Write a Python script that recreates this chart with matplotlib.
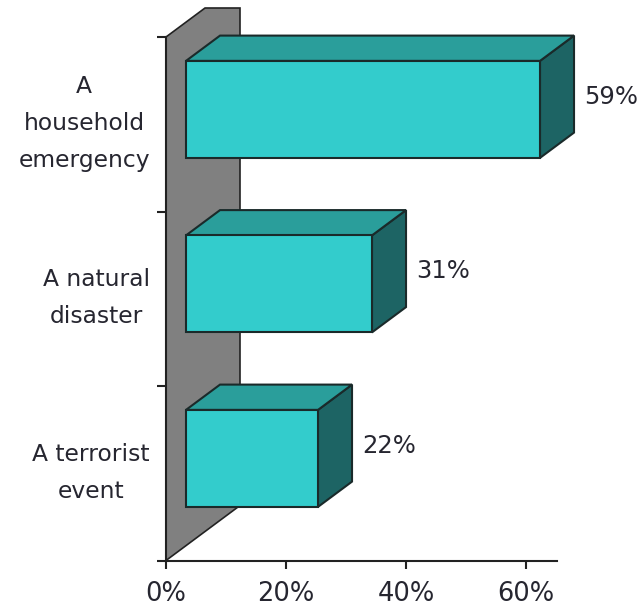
import matplotlib.pyplot as plt
from matplotlib.patches import Polygon

# data (top to bottom in the picture)
categories = ['A\nhousehold\nemergency', 'A natural\ndisaster', 'A terrorist\nevent']
values = [59, 31, 22]
value_labels = ['59%', '31%', '22%']
xticks = [0, 20, 40, 60]
xtick_labels = ['0%', '20%', '40%', '60%']

W, H = 644, 607
fig = plt.figure(figsize=(W / 100, H / 100), dpi=100)

# axes box in pixels
left, right, top, bottom = 166, 557, 37, 560.5
ax = fig.add_axes([left / W, 1 - bottom / H, (right - left) / W, (bottom - top) / H])
xmax = (right - left) / 6.0
ax.set_xlim(0, xmax)
ax.set_ylim(0, 3)

# pixel -> data scale
px_x = xmax / (right - left)
px_y = 3 / (bottom - top)

# 3d depth vector (pixels)
Dx, Dy = 74 * px_x, 55 * px_y
f0, f1 = 0.27, 0.73
ox0, oy0 = f0 * Dx, f0 * Dy
ox1, oy1 = f1 * Dx, f1 * Dy

edge = '#1a2a2a'
front_c = '#33cccc'
top_c = '#2a9e9b'
side_c = '#1d6464'
txt_c = '#262630'

# wall
ytop = 3 + 29 * px_y
wall = Polygon([(0, 0), (0, 3), (Dx * (ytop - 3) / Dy, ytop), (Dx, ytop), (Dx, Dy)],
               closed=True, facecolor='#808080', edgecolor='#222222', lw=1.2,
               zorder=1, clip_on=False)
ax.add_patch(wall)

h = 97 * px_y
n = len(values)
for i, v in enumerate(values):
    yc = n - 1 - i + 0.5
    yb, yt = yc - h / 2, yc + h / 2
    front = Polygon([(ox0, yb + oy0), (v + ox0, yb + oy0), (v + ox0, yt + oy0), (ox0, yt + oy0)],
                    facecolor=front_c, edgecolor=edge, lw=1.5, zorder=3, clip_on=False)
    topf = Polygon([(ox0, yt + oy0), (v + ox0, yt + oy0), (v + ox1, yt + oy1), (ox1, yt + oy1)],
                   facecolor=top_c, edgecolor=edge, lw=1.5, zorder=3, clip_on=False)
    side = Polygon([(v + ox0, yb + oy0), (v + ox1, yb + oy1), (v + ox1, yt + oy1), (v + ox0, yt + oy0)],
                   facecolor=side_c, edgecolor=edge, lw=1.5, zorder=3, clip_on=False)
    for p in (side, topf, front):
        ax.add_patch(p)
    ax.text(v + ox1 + 10 * px_x, yc + (oy0 + oy1) / 2, value_labels[i],
            ha='left', va='center', fontsize=17.5, color=txt_c, family='DejaVu Sans')

# axes styling
for s in ['top', 'right']:
    ax.spines[s].set_visible(False)
for s in ['left', 'bottom']:
    ax.spines[s].set_linewidth(1.5)
    ax.spines[s].set_color('#222222')
    ax.spines[s].set_zorder(2)

ax.set_xticks(xticks)
ax.set_xticklabels(xtick_labels, fontsize=18.5, color=txt_c, family='DejaVu Sans')
ax.tick_params(axis='x', direction='out', length=6, width=1.5, color='#222222', pad=9)

ax.set_yticks([0, 1, 2, 3])
ax.set_yticklabels([])
ax.tick_params(axis='y', which='major', direction='out', length=6.5, width=1.5, color='#222222')
# category labels sit a little above the band centre
ax.set_yticks([n - 1 - i + 0.5 + 10 * px_y for i in range(n)], minor=True)
labels = ax.set_yticklabels(categories, minor=True, fontsize=16.8, color=txt_c,
                            family='DejaVu Sans', ha='right', linespacing=1.78)
for lab in labels:
    lab.set_multialignment('center')
ax.tick_params(axis='y', which='minor', length=0, pad=16 * 0.72)

ax.patch.set_visible(False)
fig.savefig('out.png', dpi=100)
